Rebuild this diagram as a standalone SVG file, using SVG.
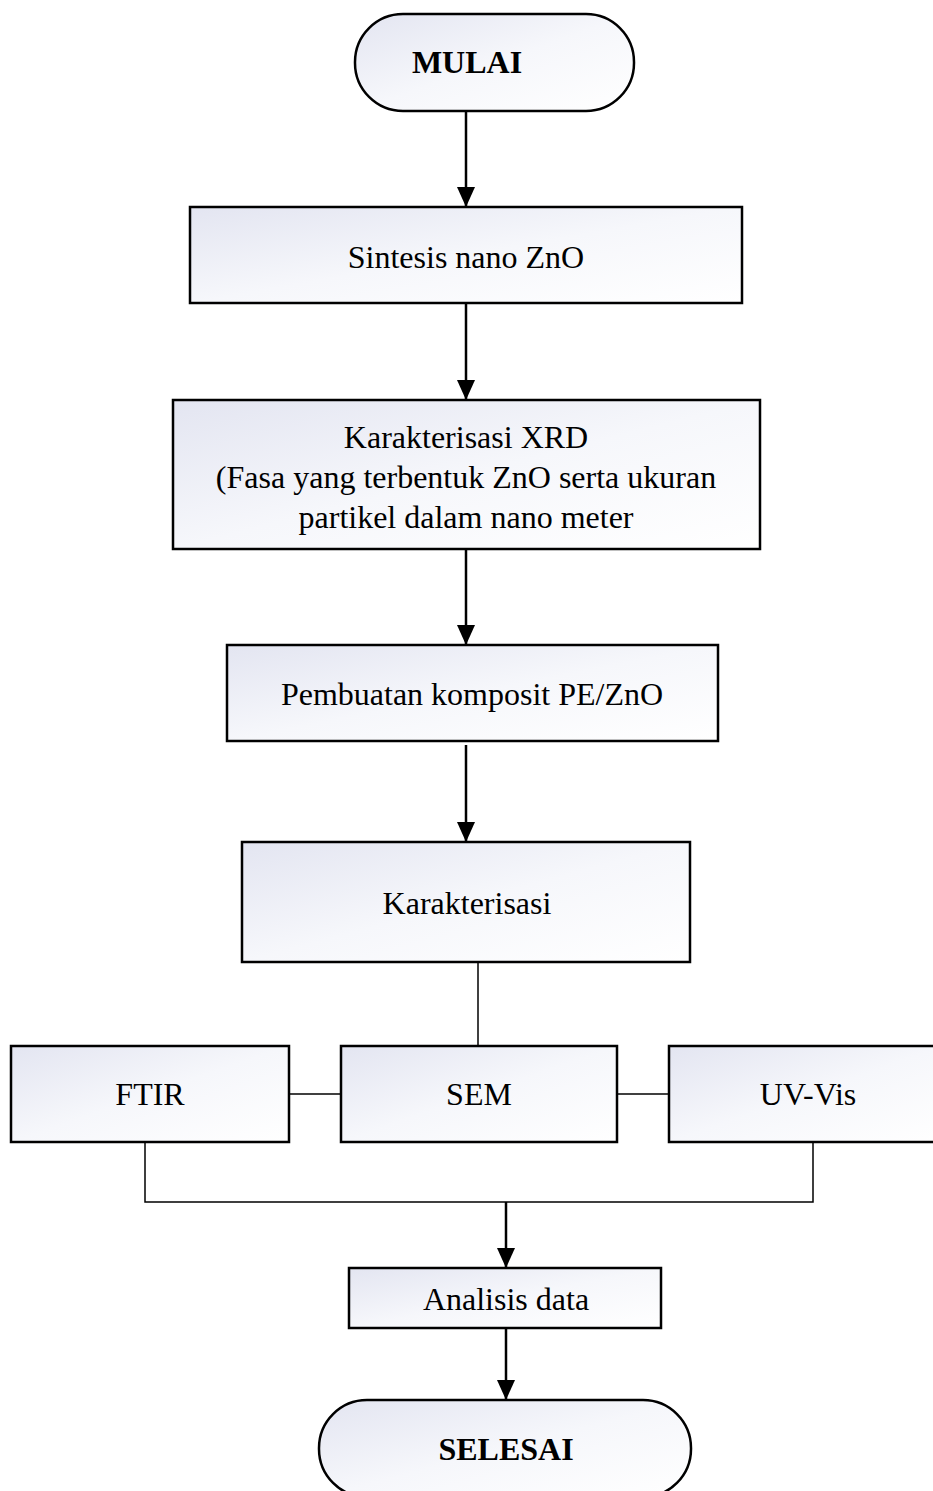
<svg xmlns="http://www.w3.org/2000/svg" width="933" height="1491" viewBox="0 0 933 1491">
<defs>
<linearGradient id="g" x1="0" y1="0" x2="1" y2="1">
<stop offset="0" stop-color="#e3e5f1"/>
<stop offset="0.5" stop-color="#f6f7fb"/>
<stop offset="1" stop-color="#ffffff"/>
</linearGradient>
<marker id="arr" viewBox="0 0 20 18" refX="20" refY="9" markerWidth="20" markerHeight="18" orient="auto" markerUnits="userSpaceOnUse">
<path d="M0,0 L20,9 L0,18 Z" fill="#000"/>
</marker>
</defs>
<style>
.box{fill:url(#g);stroke:#000;stroke-width:2.5}
.t{font-family:"Liberation Serif","Times New Roman",serif;font-size:32px;fill:#000;text-anchor:middle}
.b{font-weight:bold}
.a{stroke:#000;stroke-width:2.5;fill:none}
.l{stroke:#000;stroke-width:1.5;fill:none}
</style>
<rect width="933" height="1491" fill="#fff"/>
<g id="connectors">
<line class="a" x1="466" y1="111" x2="466" y2="207" marker-end="url(#arr)"/>
<line class="a" x1="466" y1="303" x2="466" y2="400" marker-end="url(#arr)"/>
<line class="a" x1="466" y1="549" x2="466" y2="645" marker-end="url(#arr)"/>
<line class="a" x1="466" y1="745" x2="466" y2="842" marker-end="url(#arr)"/>
<line class="l" x1="478" y1="962" x2="478" y2="1046"/>
<line class="l" x1="289" y1="1094" x2="341" y2="1094"/>
<line class="l" x1="617" y1="1094" x2="669" y2="1094"/>
<polyline class="l" points="145,1142 145,1202 813,1202 813,1142"/>
<line class="a" x1="506" y1="1202" x2="506" y2="1268" marker-end="url(#arr)"/>
<line class="a" x1="506" y1="1328" x2="506" y2="1400" marker-end="url(#arr)"/>
</g>
<g id="mulai">
<rect class="box" x="355" y="14" width="279" height="97" rx="48" ry="48"/>
<text class="t b" x="467" y="73">MULAI</text>
</g>
<g id="sintesis">
<rect class="box" x="190" y="207" width="552" height="96"/>
<text class="t" x="466" y="268">Sintesis nano ZnO</text>
</g>
<g id="xrd">
<rect class="box" x="173" y="400" width="587" height="149"/>
<text class="t" x="466" y="448">Karakterisasi XRD</text>
<text class="t" x="466" y="488">(Fasa yang terbentuk ZnO serta ukuran</text>
<text class="t" x="466" y="528">partikel dalam nano meter</text>
</g>
<g id="pembuatan">
<rect class="box" x="227" y="645" width="491" height="96"/>
<text class="t" x="472" y="705">Pembuatan komposit PE/ZnO</text>
</g>
<g id="karakterisasi">
<rect class="box" x="242" y="842" width="448" height="120"/>
<text class="t" x="467" y="914">Karakterisasi</text>
</g>
<g id="ftir">
<rect class="box" x="11" y="1046" width="278" height="96"/>
<text class="t" x="150" y="1105">FTIR</text>
</g>
<g id="sem">
<rect class="box" x="341" y="1046" width="276" height="96"/>
<text class="t" x="479" y="1105">SEM</text>
</g>
<g id="uvvis">
<rect class="box" x="669" y="1046" width="275" height="96"/>
<text class="t" x="808" y="1105">UV-Vis</text>
</g>
<g id="analisis">
<rect class="box" x="349" y="1268" width="312" height="60"/>
<text class="t" x="506" y="1310">Analisis data</text>
</g>
<g id="selesai">
<rect class="box" x="319" y="1400" width="372" height="97" rx="48" ry="48"/>
<text class="t b" x="506" y="1460">SELESAI</text>
</g>
</svg>
